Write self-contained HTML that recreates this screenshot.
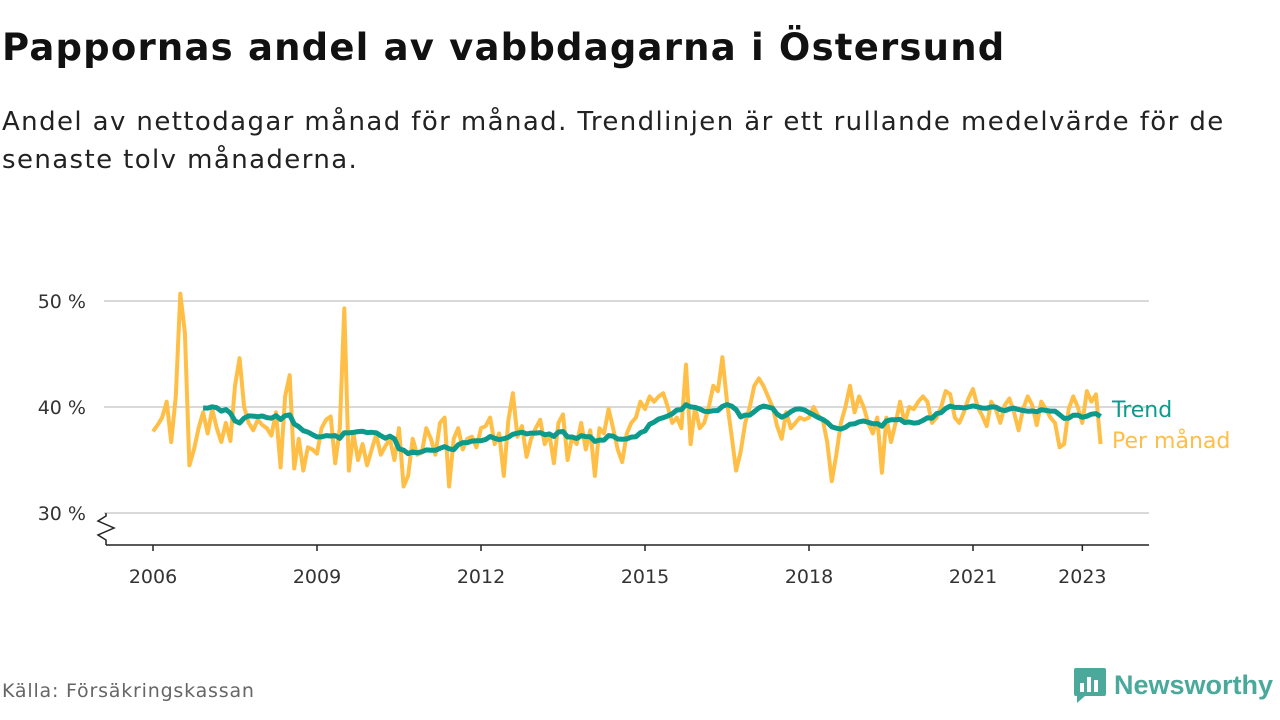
<!DOCTYPE html>
<html><head><meta charset="utf-8">
<style>
body{margin:0;width:1280px;height:720px;background:#fff;font-family:"DejaVu Sans","Liberation Sans",sans-serif;overflow:hidden;position:relative;color:#111}
#title{position:absolute;left:2px;top:26px;font-size:37px;font-weight:bold;margin:0;letter-spacing:1.2px;white-space:nowrap}
#sub{position:absolute;left:2px;top:103px;font-size:26px;line-height:38px;width:1275px;color:#222;white-space:nowrap;letter-spacing:1.4px}
#src{position:absolute;left:2px;top:680px;font-size:19px;color:#666;letter-spacing:0.8px}
#logo{position:absolute;left:1073px;top:666px;display:flex;align-items:center;gap:7px}
</style></head><body>
<h1 id="title">Pappornas andel av vabbdagarna i Östersund</h1>
<div id="sub">Andel av nettodagar månad för månad. Trendlinjen är ett rullande medelvärde för de<br>senaste tolv månaderna.</div>
<svg id="chart" width="1280" height="720" style="position:absolute;left:0;top:0"></svg>
<div id="src">Källa: Försäkringskassan</div>
<div id="logo">
<svg width="34" height="38" viewBox="0 0 34 38"><path d="M3 2h28a2 2 0 0 1 2 2v24a2 2 0 0 1-2 2H12l-8 7v-7H3a2 2 0 0 1-2-2V4a2 2 0 0 1 2-2z" fill="#4aa99b"/><rect x="7" y="17" width="4" height="9" fill="#fff"/><rect x="14" y="11" width="4" height="15" fill="#fff"/><rect x="21" y="14" width="4" height="12" fill="#fff"/></svg>
<span style="font-size:27px;font-weight:bold;color:#4aa99b;font-family:'Liberation Sans',sans-serif">Newsworthy</span></div>
<script>
const startYear=2006;
const monthly=[
37.7,38.3,39,40.5,36.7,41,50.7,47,34.5,36,38,39.5,
37.5,39.8,38,36.7,38.5,36.8,42,44.6,40,38.5,37.8,38.8,
38.3,38,37.3,39.5,34.3,41,43,34.2,37,34,36.2,36,
35.6,38,38.8,39.1,34.7,38,49.3,34,37.5,35,36.5,34.5,
36,37.4,35.5,36.3,37,35,38,32.5,33.5,37,35.5,35.7,
38,37,35.5,38.5,39,32.5,37,38,36,37,37.2,36.2,
38,38.2,39,36.5,37.5,33.5,38.7,41.3,37.2,38.2,35.3,37,
38,38.8,36.5,37.5,34.7,38.5,39.3,35,37.2,36.5,38.5,36,
37.8,33.5,38,37.5,39.8,38,36,34.8,37.5,38.5,39,40.5,
39.8,41,40.5,41,41.3,40,38.5,39,38,44,36.5,40,
38,38.5,40,42,41.5,44.7,40.5,37.3,34,35.8,38.5,40,
42,42.7,42,41,40,38.2,37,39.5,38,38.5,39,38.8,
39,40,39.2,38.8,36.7,33,35.5,38.5,40,42,39.5,41,
40,38.5,37.5,39,33.8,39,36.7,38.5,40.5,38.5,40,39.8,
40.5,41,40.5,38.5,39,40,41.5,41.2,39,38.5,39.5,40.8,
41.7,40,39.2,38.2,40.5,39.8,38.5,40.2,40.8,39.5,37.8,39.8,
41,40.2,38.3,40.5,39.8,39,38.5,36.2,36.5,39.8,41,40,
38.5,41.5,40.5,41.2,36.5];
const yTicks=[30,40,50];
const xTicks=[2006,2009,2012,2015,2018,2021,2023];
const ns="http://www.w3.org/2000/svg";
const svg=document.getElementById('chart');
const X=m=>153+m*(164/36);
const Y=v=>407-(v-40)*10.6;
const XY=yr=>X((yr-startYear)*12);
const FF='DejaVu Sans, Liberation Sans, sans-serif';
function el(t,a){const e=document.createElementNS(ns,t);for(const k in a)e.setAttribute(k,a[k]);svg.appendChild(e);return e;}
yTicks.forEach(v=>{
 const g=el('line',{x1:104,x2:1149,y1:Y(v),y2:Y(v),stroke:'#d9d9d9','stroke-width':2});
 
 
 const t=el('text',{x:86,y:Y(v)+7,'text-anchor':'end','font-size':19,fill:'#333','font-family':FF});
 t.textContent=v+' %';
 
 
});
const ax=el('line',{x1:106,x2:1149,y1:545,y2:545,stroke:'#222','stroke-width':1.5});


const br=el('path',{d:'M106 513 L106 516 L98 521 L114 528 L98 535 L106 540 L106 545',fill:'none',stroke:'#222','stroke-width':1.5});


xTicks.forEach(yr=>{
 const x=XY(yr);
 const l=el('line',{x1:x,x2:x,y1:545,y2:551,stroke:'#222','stroke-width':1.5});
 
 
 const t=el('text',{x:x,y:583,'text-anchor':'middle','font-size':19,fill:'#333','font-family':FF});
 t.textContent=yr;
 
 
});
const p1=el('path',{d:monthly.map((v,i)=>(i?'L':'M')+X(i).toFixed(1)+' '+Y(v).toFixed(1)).join(''),fill:'none',stroke:'#ffbe45','stroke-width':4,'stroke-linejoin':'round'});


const trend=[];
for(let i=11;i<monthly.length;i++){let s=0;for(let j=i-11;j<=i;j++)s+=monthly[j];trend.push([i,s/12]);}
const p2=el('path',{d:trend.map((p,k)=>(k?'L':'M')+X(p[0]).toFixed(1)+' '+Y(p[1]).toFixed(1)).join(''),fill:'none',stroke:'#0c9a8c','stroke-width':5,'stroke-linejoin':'round'});


const lt=el('text',{x:1112,y:417,'font-size':22,fill:'#0c9a8c','font-family':FF});
lt.textContent='Trend';


const lm=el('text',{x:1112,y:448,'font-size':22,fill:'#ffbe45','font-family':FF});
lm.textContent='Per månad';


</script>
</body></html>
